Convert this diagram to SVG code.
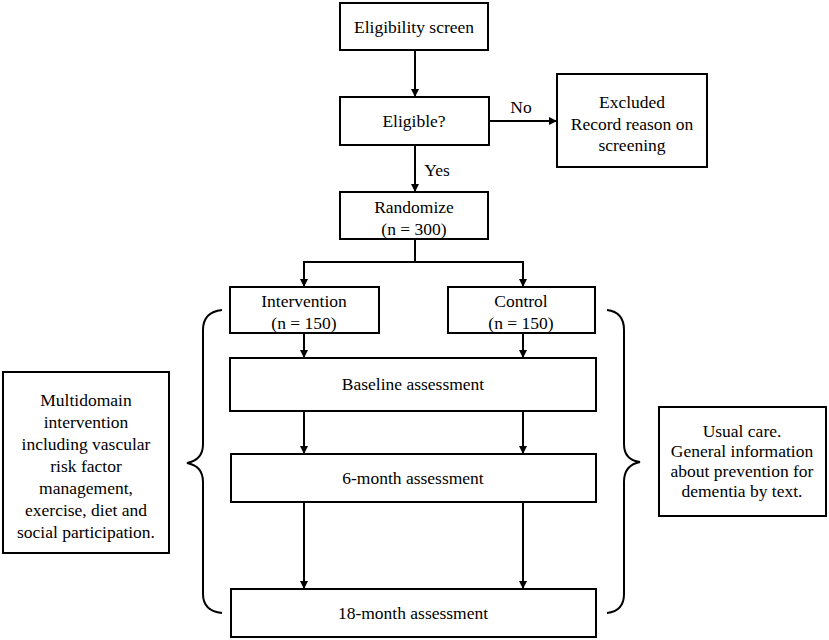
<svg xmlns="http://www.w3.org/2000/svg" width="829" height="640" viewBox="0 0 829 640">
<defs>
<marker id="ah" viewBox="0 0 10 10" refX="10" refY="5" markerWidth="8" markerHeight="8" markerUnits="userSpaceOnUse" orient="auto">
<path d="M0,0 L10,5 L0,10 Z" fill="#000"/>
</marker>
<style>
.box{fill:#fff;stroke:#000;stroke-width:2}
.t{font-size:17.5px;fill:#000;text-anchor:middle}
.c{fill:none;stroke:#000;stroke-width:2}
</style>
</defs>
<rect width="829" height="640" fill="#fff"/>
<g font-family="'Liberation Serif', 'Times New Roman', 'DejaVu Serif', serif">
<g id="connectors">
<path class="c" d="M415,50 V97" marker-end="url(#ah)"/>
<path class="c" d="M489,121 H557" marker-end="url(#ah)"/>
<path class="c" d="M415,145 V192" marker-end="url(#ah)"/>
<path class="c" d="M415,239 V262"/>
<path class="c" d="M304,262 H523"/>
<path class="c" d="M304,261 V287" marker-end="url(#ah)"/>
<path class="c" d="M523,261 V287" marker-end="url(#ah)"/>
<path class="c" d="M304,333 V358" marker-end="url(#ah)"/>
<path class="c" d="M523,333 V358" marker-end="url(#ah)"/>
<path class="c" d="M304,411 V454" marker-end="url(#ah)"/>
<path class="c" d="M523,411 V454" marker-end="url(#ah)"/>
<path class="c" d="M304,502 V589" marker-end="url(#ah)"/>
<path class="c" d="M523,502 V589" marker-end="url(#ah)"/>
<text class="t" x="521" y="113">No</text>
<text class="t" x="437" y="176">Yes</text>
</g>
<g id="braces">
<path class="c" d="M222,310 Q203,312 203,330 V444 Q203,460 187,463 Q203,466 203,482 V594 Q203,611 222,613"/>
<path class="c" d="M607,310 Q624,312 624,330 V444 Q624,460 640,462 Q624,465 624,482 V594 Q624,611 607,613"/>
</g>
<g id="eligibility">
<rect class="box" x="340" y="3" width="148" height="47"/>
<text class="t" x="414" y="33">Eligibility screen</text>
</g>
<g id="eligible">
<rect class="box" x="340" y="97" width="149" height="48"/>
<text class="t" x="414" y="127">Eligible?</text>
</g>
<g id="excluded">
<rect class="box" x="557" y="74" width="150" height="93"/>
<text class="t" x="632" y="108">Excluded</text>
<text class="t" x="632" y="130">Record reason on</text>
<text class="t" x="632" y="151">screening</text>
</g>
<g id="randomize">
<rect class="box" x="340" y="192" width="148" height="47"/>
<text class="t" x="414" y="213">Randomize</text>
<text class="t" x="414" y="235">(n = 300)</text>
</g>
<g id="intervention">
<rect class="box" x="230" y="287" width="149" height="46"/>
<text class="t" x="304" y="307">Intervention</text>
<text class="t" x="304" y="329">(n = 150)</text>
</g>
<g id="control">
<rect class="box" x="448" y="287" width="147" height="46"/>
<text class="t" x="521" y="307">Control</text>
<text class="t" x="521" y="329">(n = 150)</text>
</g>
<g id="baseline">
<rect class="box" x="230" y="358" width="366" height="53"/>
<text class="t" x="413" y="390">Baseline assessment</text>
</g>
<g id="month6">
<rect class="box" x="231" y="454" width="365" height="48"/>
<text class="t" x="413" y="484">6-month assessment</text>
</g>
<g id="month18">
<rect class="box" x="231" y="589" width="365" height="48"/>
<text class="t" x="413" y="619">18-month assessment</text>
</g>
<g id="left-note">
<rect class="box" x="3" y="372" width="166" height="181"/>
<text class="t" x="86" y="406">Multidomain</text>
<text class="t" x="86" y="428">intervention</text>
<text class="t" x="86" y="450">including vascular</text>
<text class="t" x="86" y="472">risk factor</text>
<text class="t" x="86" y="494">management,</text>
<text class="t" x="86" y="516">exercise, diet and</text>
<text class="t" x="86" y="538">social participation.</text>
</g>
<g id="right-note">
<rect class="box" x="659" y="407" width="167" height="109"/>
<text class="t" x="742" y="437">Usual care.</text>
<text class="t" x="742" y="457">General information</text>
<text class="t" x="742" y="477">about prevention for</text>
<text class="t" x="742" y="497">dementia by text.</text>
</g>
</g>
</svg>
